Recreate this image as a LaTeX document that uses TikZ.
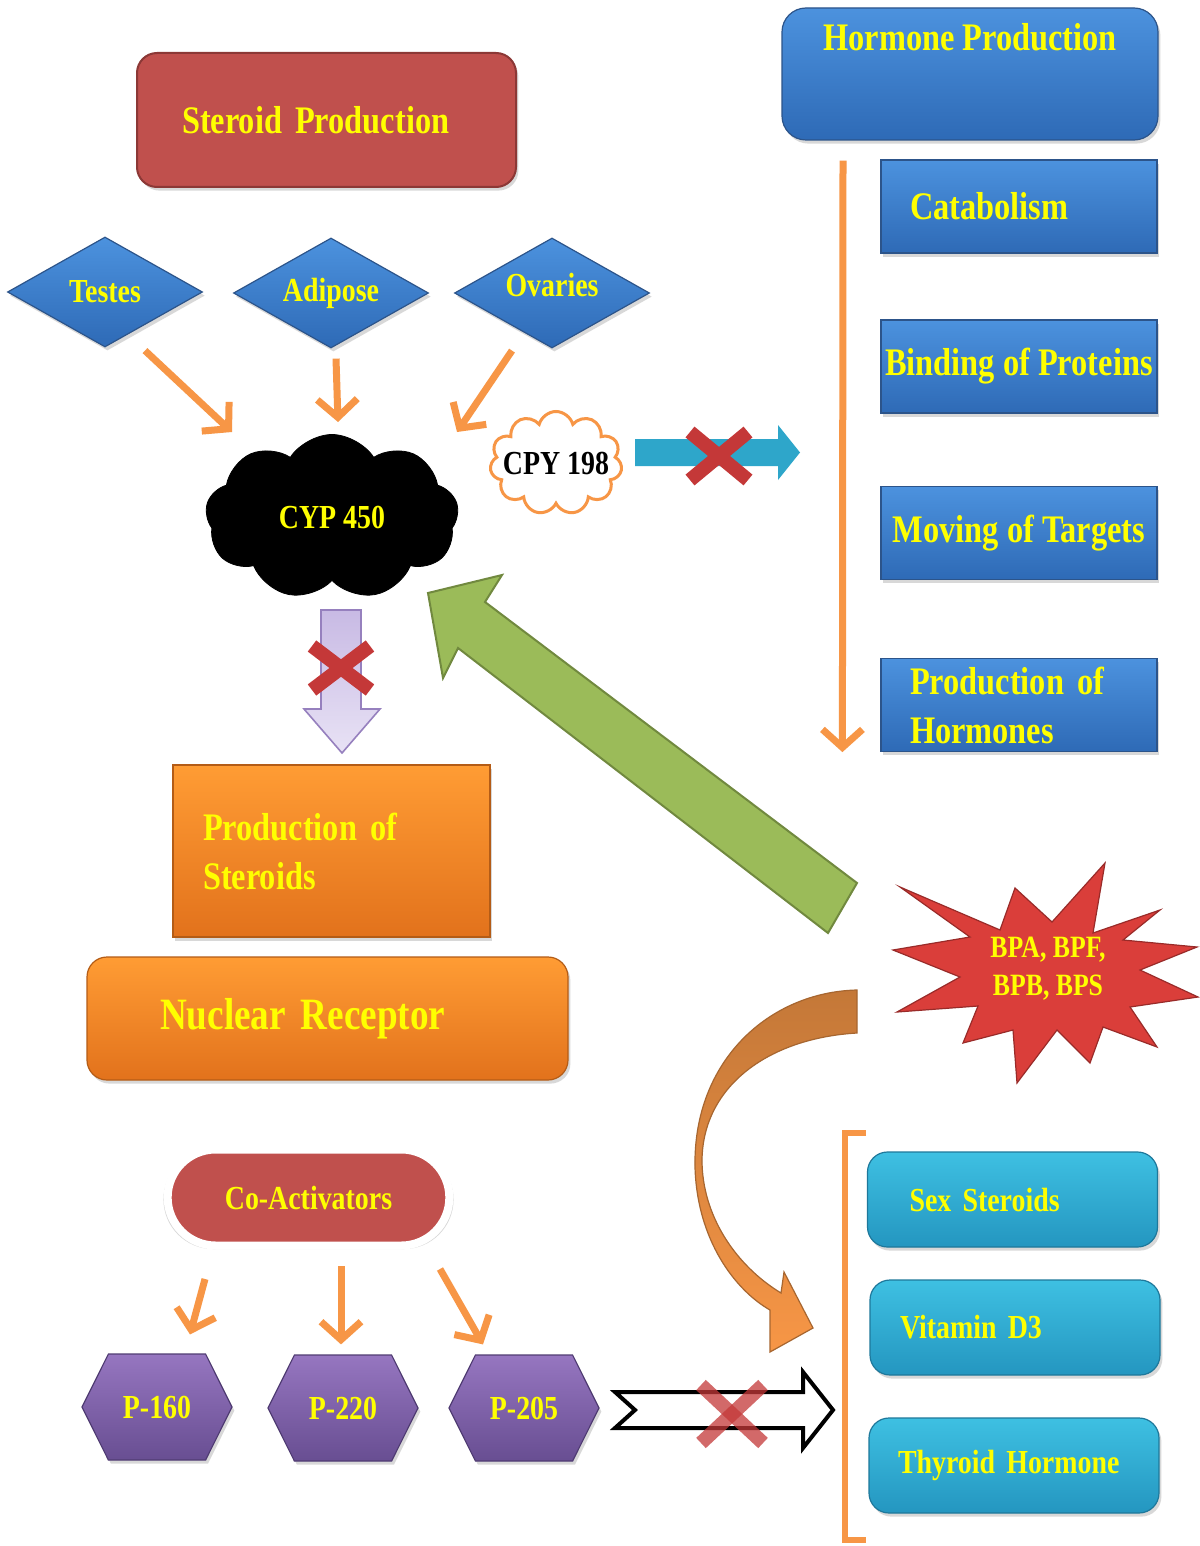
\documentclass[tikz,border=0pt]{standalone}
\usepackage{fontspec}
\setmainfont{Liberation Serif}[FakeStretch=0.83]
\usetikzlibrary{arrows.meta,positioning,shapes.geometric,shapes.symbols,shapes.misc,shadows}
\definecolor{srred}{RGB}{192,80,77}
\definecolor{srreddark}{RGB}{140,56,54}
\definecolor{hpbluetop}{RGB}{76,146,222}
\definecolor{hpbluebot}{RGB}{46,106,182}
\definecolor{hpbluedark}{RGB}{44,84,138}
\definecolor{ortop}{RGB}{255,156,52}
\definecolor{orbot}{RGB}{226,114,28}
\definecolor{ordark}{RGB}{180,92,22}
\definecolor{cytop}{RGB}{62,192,226}
\definecolor{cybot}{RGB}{36,150,192}
\definecolor{cydark}{RGB}{30,120,155}
\definecolor{pptop}{RGB}{150,118,192}
\definecolor{ppbot}{RGB}{104,78,146}
\definecolor{ppdark}{RGB}{80,60,115}
\definecolor{lvtop}{RGB}{200,186,228}
\definecolor{lvbot}{RGB}{232,226,245}
\definecolor{lvdark}{RGB}{150,128,190}
\definecolor{grfill}{RGB}{155,187,89}
\definecolor{grdark}{RGB}{113,137,63}
\definecolor{connorange}{RGB}{247,150,70}
\definecolor{curvebrown}{RGB}{196,120,56}
\definecolor{cyarrow}{RGB}{46,166,202}
\definecolor{xred}{RGB}{196,56,56}
\definecolor{txtyellow}{RGB}{255,255,0}
\definecolor{starred}{RGB}{218,62,58}
\newcommand{\fbig}{\fontsize{19.5}{24.5}\selectfont\bfseries}
\newcommand{\fmid}{\fontsize{16.8}{20}\selectfont\bfseries}
\newcommand{\fnuc}{\fontsize{22.4}{26}\selectfont\bfseries}
\newcommand{\fstar}{\fontsize{15.5}{19}\selectfont\bfseries}
% red cross: centre x, centre y, half width, half height
\newcommand{\redcross}[5][]{%
  \draw[xmark,#1] ({#2-#4},{#3-#5}) -- ({#2+#4},{#3+#5});
  \draw[xmark,#1] ({#2-#4},{#3+#5}) -- ({#2+#4},{#3-#5});}
\tikzset{
  shade3d/.style={drop shadow={opacity=0.3,shadow xshift=1.2pt,shadow yshift=-1.8pt}},
  sbox/.style={rectangle, rounded corners=10pt, fill=srred, draw=srreddark, line width=1pt,
    text=txtyellow, shade3d},
  hpbox/.style={rectangle, top color=hpbluetop, bottom color=hpbluebot, draw=hpbluedark,
    line width=0.6pt, shade3d},
  rbox/.style={hpbox, minimum width=138pt, minimum height=46.5pt, inner ysep=0pt,
    align=left, font=\fbig, text=txtyellow},
  dia/.style={diamond, aspect=2, minimum width=97.5pt, minimum height=55pt, inner sep=0pt,
    top color=hpbluetop, bottom color=hpbluebot, draw=hpbluedark, line width=0.6pt,
    font=\fmid, text=txtyellow, shade3d},
  obox/.style={rectangle, top color=ortop, bottom color=orbot, draw=ordark,
    line width=0.6pt, text=txtyellow, shade3d},
  cbox/.style={rectangle, rounded corners=10pt, top color=cytop, bottom color=cybot,
    draw=cydark, line width=0.6pt, minimum width=145pt, minimum height=47.5pt,
    align=left, font=\fmid, text=txtyellow, shade3d},
  copill/.style={rounded rectangle, fill=srred, draw=white, line width=4pt,
    text=txtyellow, font=\fmid,
    drop shadow={opacity=0.3,shadow xshift=0pt,shadow yshift=-1pt,shadow scale=1.03}},
  hexa/.style={signal, signal to=east and west, signal pointer angle=127,
    minimum width=75pt, minimum height=53pt, inner sep=0pt,
    top color=pptop, bottom color=ppbot, draw=ppdark, line width=0.6pt,
    font=\fmid, text=txtyellow, shade3d},
  conn/.style={draw=connorange, line width=3.5pt, -{Straight Barb[length=9pt,width=20pt]}},
  xmark/.style={draw=xred, line width=7pt},
}
\begin{document}
\begin{tikzpicture}[x=0.5pt,y=-0.5pt]
\fill[white] (0,0) rectangle (1199,1546);
\useasboundingbox (0,0) rectangle (1199,1546);
% Left: steroid production
\node[sbox, minimum width=189.5pt, minimum height=67pt, text width=144.5pt,
  inner xsep=22.5pt, align=left, font=\fbig] (sp) at (326.5,120) {Steroid Production};
\node[dia] (testes) at (105,292) {Testes};
\node[dia] (adipose) at (331,293) {Adipose};
\node[dia] (ovaries) at (552,293) {\raisebox{8pt}{Ovaries}};
\node[cloud, cloud puffs=9, cloud puff arc=115, cloud ignores aspect,
  minimum width=126.5pt, minimum height=82.5pt, fill=black, draw=black,
  label={[font=\fmid, text=txtyellow]center:CYP 450}] (cyp) at (332,517) {};
\node[cloud, cloud puffs=11, cloud ignores aspect, minimum width=66pt, minimum height=51.5pt,
  draw=connorange, line width=1.5pt, fill=white,
  label={[font=\fmid]center:CPY 198}] (cpy) at (556,463) {};
\draw[conn] ([xshift=20pt,yshift=-1.5pt]testes.south) -- ([xshift=-50pt,yshift=42.5pt]cyp.center);
\draw[conn] ([xshift=2.5pt,yshift=-5pt]adipose.south) -- ([xshift=3pt,yshift=47.5pt]cyp.center);
\draw[conn] ([xshift=-20pt,yshift=-1pt]ovaries.south) -- ([xshift=62.5pt,yshift=42.5pt]cyp.center);
% blocked arrow to hormone column
\fill[cyarrow] (635,439) -- (778,439) -- (778,425) -- (800,452.5) -- (778,480) -- (778,466)
  -- (635,466) -- cycle;
% blocked arrow down
\path[top color=lvtop, bottom color=lvbot, draw=lvdark, line width=0.8pt]
  (321,610) -- (361,610) -- (361,709) -- (380,709) -- (342,753) -- (304,709) -- (321,709) -- cycle;
\node[obox, minimum width=158.5pt, minimum height=86pt, text width=128.5pt, inner xsep=15pt,
  align=left, font=\fbig] (ps) at (331.5,851) {Production of\\Steroids};
\node[obox, rounded corners=10pt, minimum width=240.5pt, minimum height=61.5pt,
  text width=167.5pt, inner xsep=36.5pt, align=left, font=\fnuc] (nr) at (327.5,1018.5)
  {Nuclear Receptor};
% Right: hormone production
\node[hpbox, rounded corners=12pt, minimum width=188pt, minimum height=66pt,
  label={[anchor=north, inner sep=0pt, yshift=-8pt, font=\fbig, text=txtyellow]north:Hormone Production}]
  (hp) at (970,74) {};
\node[rbox, inner xsep=14.5pt, text width=109pt] (cat) at (1019,206.5) {Catabolism};
\node[rbox, inner xsep=2pt] (bind) at (1019,366.5) {Binding of Proteins};
\node[rbox, inner xsep=2.5pt] (move) at (1019,533) {Moving of Targets};
\node[rbox, inner xsep=14.5pt, text width=109pt] (ph) at (1019,705) {Production of\\Hormones};
\draw[conn] ([xshift=-63.5pt,yshift=-10pt]hp.south) -- ([xshift=-19pt]ph.south west);
% bisphenols
\path[fill=starred, draw=starred!70!black, line width=0.6pt]
  (900,887) -- (1000,930) -- (1015,888) -- (1052,922) -- (1105,863) -- (1093,933)
  -- (1160,910) -- (1123,940) -- (1197,947) -- (1140,970) -- (1198,997) -- (1130,1007)
  -- (1157,1047) -- (1103,1027) -- (1090,1063) -- (1057,1030) -- (1017,1083) -- (1013,1030)
  -- (963,1043) -- (978,1006) -- (897,1012) -- (960,977) -- (893,950) -- (970,937) -- cycle;
\node[font=\fstar, align=center, text=txtyellow] (bp) at (1048,969) {BPA, BPF,\\BPB, BPS};
\path[fill=grfill, draw=grdark, line width=1pt]
  (428,593) -- (502,575) -- (485,602) -- (857,883) -- (828,933) -- (458,648) -- (443,678) -- cycle;
\path[top color=curvebrown, middle color=curvebrown!50!connorange, bottom color=connorange,
  draw=curvebrown!85!black, line width=0.6pt]
  (857,990) .. controls (770,992) and (693,1060) .. (695,1167)
  .. controls (697,1240) and (735,1290) .. (770,1310) -- (770,1352) -- (813,1328)
  -- (784,1272) -- (781,1293) .. controls (735,1265) and (702,1215) .. (702,1160)
  .. controls (703,1085) and (770,1038) .. (857,1033) -- cycle;
\draw[connorange, line width=3pt] (866,1133) -- (845,1133) -- (845,1540) -- (866,1540);
\node[cbox, inner xsep=21pt, text width=103pt] (sex) at (1012.5,1199.5) {Sex Steroids};
\node[cbox, inner xsep=15pt, text width=115pt] (vit) at (1015,1327.5) {Vitamin D3};
\node[cbox, inner xsep=14.5pt, text width=116pt] (thy) at (1014,1465.5) {Thyroid Hormone};
% Bottom: co-activators
\node[copill, minimum width=147.5pt, minimum height=48pt] (co) at (308.5,1197.5) {Co-Activators};
\node[hexa] (p160) at (157,1407) {P-160};
\node[hexa] (p220) at (343,1408) {P-220};
\node[hexa] (p205) at (524,1408) {P-205};
\draw[conn] ([xshift=-51.75pt,yshift=-14.75pt]co.south) -- ([xshift=16.5pt,yshift=9.5pt]p160.north);
\draw[conn] ([xshift=16.25pt,yshift=-8.25pt]co.south) -- ([xshift=-1pt,yshift=5pt]p220.north);
\draw[conn] ([xshift=65.75pt,yshift=-9.75pt]co.south) -- ([xshift=-20.5pt,yshift=5pt]p205.north);
\path[fill=white, draw=black, line width=2pt]
  (615,1392) -- (803,1392) -- (803,1372) -- (833,1410) -- (803,1448) -- (803,1428)
  -- (615,1428) -- (635,1410) -- cycle;
% crosses
\redcross{719}{456}{29}{24}
\redcross{341}{668}{29}{22}
\redcross[opacity=0.75]{732}{1414}{31}{29}
\end{tikzpicture}
\end{document}
